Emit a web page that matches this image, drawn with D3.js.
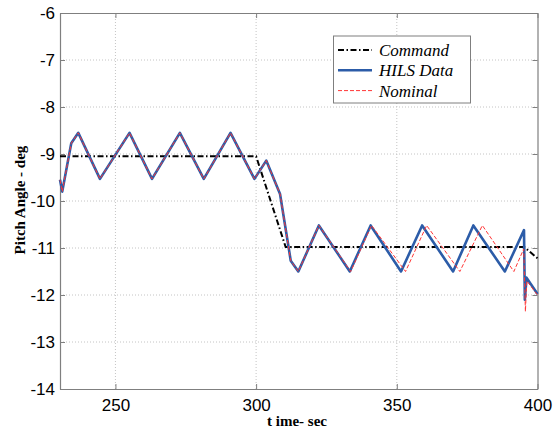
<!DOCTYPE html>
<html>
<head>
<meta charset="utf-8">
<script src="https://cdn.jsdelivr.net/npm/d3@7"></script>
<style>
  html, body { margin: 0; padding: 0; background: #fff; }
  svg { display: block; }
</style>
</head>
<body>
<svg id="chart" width="553" height="433"></svg>
<script>
// Pitch angle response: command, HILS measurement and nominal simulation
const xTicks = [250, 300, 350, 400];
const yTicks = [-14, -13, -12, -11, -10, -9, -8, -7, -6];

const commandTime  = [230.3, 300, 310.5, 395.3, 400];
const commandPitch = [-9.05, -9.05, -10.98, -10.98, -11.22];

const hilsTime  = [230.3, 231.1, 234.3, 236.8, 244.5, 255, 263, 272.9, 281.4, 290.9, 299.4,
                   303.6, 308.5, 312.3, 315, 322.3, 333.3, 340.7, 351.5, 359, 370, 377.2,
                   388.4, 395.2, 395.5, 396.1, 400];
const hilsPitch = [-9.55, -9.8, -8.77, -8.55, -9.53, -8.55, -9.53, -8.55, -9.53, -8.55, -9.53,
                   -9.14, -9.85, -11.27, -11.5, -10.52, -11.5, -10.52, -11.5, -10.52, -11.5, -10.52,
                   -11.5, -10.62, -12.1, -11.63, -11.98];

const nominalTime  = [230.3, 231.1, 234.3, 236.8, 244.5, 255, 263, 272.9, 281.4, 290.9, 299.4,
                      303.6, 308.5, 312.3, 315, 322.3, 333.6, 341, 353.1, 360.6, 372.4, 380.4,
                      391.6, 395.1, 395.7, 396.2, 400];
const nominalPitch = [-9.55, -9.8, -8.77, -8.55, -9.53, -8.55, -9.53, -8.55, -9.53, -8.55, -9.53,
                      -9.14, -9.85, -11.27, -11.5, -10.52, -11.5, -10.52, -11.5, -10.52, -11.5, -10.52,
                      -11.5, -11.02, -12.35, -11.7, -12.0];

const legendNames = ["Command", "HILS Data", "Nominal"];

const svg = d3.select("#chart");
const plotLeft = 60, plotRight = 537.5, plotTop = 13, plotBottom = 389;

const x = d3.scaleLinear().domain([230.3, 400]).range([plotLeft, plotRight]);
const y = d3.scaleLinear().domain([-14, -6]).range([plotBottom, plotTop]);

// dotted grid
const grid = svg.append("g").attr("stroke", "#c4c4c4").attr("stroke-width", 1)
  .attr("stroke-dasharray", "1,2");
xTicks.filter(t => t < 400).forEach(t => {
  grid.append("line").attr("x1", x(t)).attr("x2", x(t)).attr("y1", plotTop).attr("y2", plotBottom);
});
yTicks.filter(t => t > -14 && t < -6).forEach(t => {
  grid.append("line").attr("x1", plotLeft).attr("x2", plotRight).attr("y1", y(t)).attr("y2", y(t));
});

// axes with inward ticks
const tickFont = "'Liberation Sans', Arial, sans-serif";
const xAxis = svg.append("g").attr("transform", `translate(0,${plotBottom})`)
  .call(d3.axisBottom(x).tickValues(xTicks).tickSizeInner(-5).tickSizeOuter(0).tickPadding(10).tickFormat(d3.format("d")));
const yAxis = svg.append("g").attr("transform", `translate(${plotLeft},0)`)
  .call(d3.axisLeft(y).tickValues(yTicks).tickSizeInner(-5).tickSizeOuter(0).tickPadding(5).tickFormat(d => String(d)));
const topAxis = svg.append("g").attr("transform", `translate(0,${plotTop})`)
  .call(d3.axisTop(x).tickValues(xTicks).tickSizeInner(-5).tickSizeOuter(0).tickFormat(""));
const rightAxis = svg.append("g").attr("transform", `translate(${plotRight},0)`)
  .call(d3.axisRight(y).tickValues(yTicks).tickSizeInner(-5).tickSizeOuter(0).tickFormat(""));

[xAxis, yAxis, topAxis, rightAxis].forEach(a => {
  a.select(".domain").attr("stroke", "#7f7f7f").attr("stroke-width", 1.2);
  a.selectAll(".tick line").attr("stroke", "#7f7f7f");
  a.selectAll(".tick text").attr("fill", "#000").style("font-family", tickFont).style("font-size", "17px");
});

// series
const line = d3.line().x(d => x(d[0])).y(d => y(d[1]));
const zip = (a, b) => a.map((v, i) => [v, b[i]]);

svg.append("path").datum(zip(commandTime, commandPitch)).attr("d", line)
  .attr("fill", "none").attr("stroke", "#000").attr("stroke-width", 2)
  .attr("stroke-dasharray", "6,2.5,1.5,2.5");
svg.append("path").datum(zip(hilsTime, hilsPitch)).attr("d", line)
  .attr("fill", "none").attr("stroke", "#2c5ca8").attr("stroke-width", 2.6)
  .attr("stroke-linejoin", "round");
svg.append("path").datum(zip(nominalTime, nominalPitch)).attr("d", line)
  .attr("fill", "none").attr("stroke", "#ff3535").attr("stroke-width", 1)
  .attr("stroke-dasharray", "4,2");

// legend
const lg = svg.append("g");
lg.append("rect").attr("x", 333.5).attr("y", 36).attr("width", 137).attr("height", 67)
  .attr("fill", "#fff").attr("stroke", "#7f7f7f").attr("stroke-width", 1);
const legendStyles = [
  { stroke: "#000", width: 2, dash: "6,2.5,1.5,2.5" },
  { stroke: "#2c5ca8", width: 2.6, dash: null },
  { stroke: "#ff3535", width: 1, dash: "4,2" }
];
legendNames.forEach((name, i) => {
  const yy = 50 + i * 20.3;
  const s = legendStyles[i];
  lg.append("line").attr("x1", 338).attr("x2", 372).attr("y1", yy).attr("y2", yy)
    .attr("stroke", s.stroke).attr("stroke-width", s.width).attr("stroke-dasharray", s.dash);
  lg.append("text").attr("x", 379).attr("y", yy).attr("dy", "0.35em")
    .style("font-family", "'Liberation Serif', 'Times New Roman', serif")
    .style("font-style", "italic").style("font-size", "17px").text(name);
});

// axis titles
const titleFont = "'Liberation Serif', 'Times New Roman', serif";
svg.append("text").attr("x", 297).attr("y", 426).attr("text-anchor", "middle")
  .style("font-family", titleFont).style("font-weight", "bold").style("font-size", "15px")
  .text("t ime- sec");
svg.append("text").attr("transform", "translate(25,200) rotate(-90)").attr("text-anchor", "middle")
  .style("font-family", titleFont).style("font-weight", "bold").style("font-size", "15px")
  .text("Pitch Angle - deg");
</script>
</body>
</html>
